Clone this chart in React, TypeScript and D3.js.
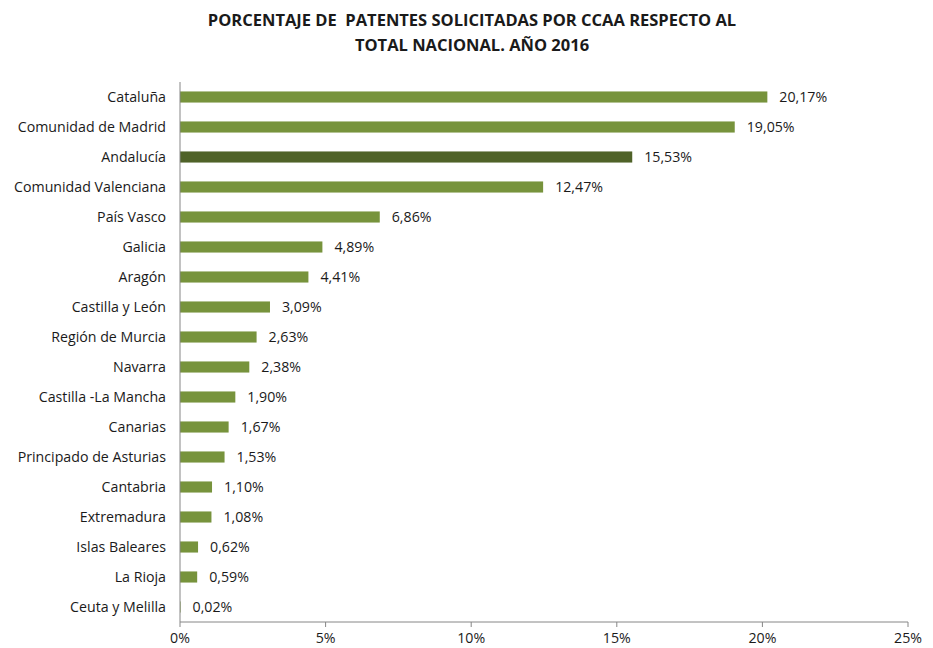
import React from "react";
import * as d3 from "d3";

const categories = [
  "Cataluña", "Comunidad de Madrid", "Andalucía", "Comunidad Valenciana", "País Vasco",
  "Galicia", "Aragón", "Castilla y León", "Región de Murcia", "Navarra",
  "Castilla -La Mancha", "Canarias", "Principado de Asturias", "Cantabria",
  "Extremadura", "Islas Baleares", "La Rioja", "Ceuta y Melilla",
];
const values = [20.17, 19.05, 15.53, 12.47, 6.86, 4.89, 4.41, 3.09, 2.63, 2.38, 1.9, 1.67, 1.53, 1.1, 1.08, 0.62, 0.59, 0.02];
const highlighted = ["Andalucía"];
const ticks = [0, 5, 10, 15, 20, 25];
const titleLines = ["PORCENTAJE DE  PATENTES SOLICITADAS POR CCAA RESPECTO AL", "TOTAL NACIONAL. AÑO 2016"];

export default function App() {
  const W = 933, H = 648;
  const x = d3.scaleLinear().domain([0, 25]).range([180, 908]);
  const y = d3.scaleBand().domain(categories).range([82, 622]).paddingInner(0.63).paddingOuter(0.315);
  const font = "'Open Sans', sans-serif";
  const fs = 14.2;
  const fmt = (v: number) => v.toFixed(2).replace(".", ",") + "%";
  return (
    <svg width={W} height={H} style={{ position: "absolute", left: 0, top: 0, background: "#fff" }} fontFamily={font}>
      {titleLines.map((t, i) => (
        <text key={i} x={472} y={26 + i * 25} textAnchor="middle" fontSize={16.5} fontWeight="bold" fill="#1a1a1a" style={{ whiteSpace: "pre" }}>{t}</text>
      ))}
      {categories.map((c, i) => {
        const yy = y(c)!;
        const bw = y.bandwidth();
        return (
          <g key={c}>
            <rect x={x(0)} y={yy} width={x(values[i]) - x(0)} height={bw}
              fill={highlighted.includes(c) ? "#4f6228" : "#77933c"} />
            <text x={166} y={yy + bw / 2} dy="0.35em" textAnchor="end" fontSize={fs} fill="#1a1a1a">{c}</text>
            <text x={x(values[i]) + 12} y={yy + bw / 2} dy="0.35em" fontSize={fs} fill="#1a1a1a">{fmt(values[i])}</text>
          </g>
        );
      })}
      <line x1={x(0)} x2={x(0)} y1={82} y2={622} stroke="#868686" />
      <line x1={x(0)} x2={x(25)} y1={622} y2={622} stroke="#868686" />
      {ticks.map((t) => (
        <g key={t}>
          <line x1={x(t)} x2={x(t)} y1={622} y2={627} stroke="#868686" />
          <text x={x(t)} y={638} dy="0.35em" textAnchor="middle" fontSize={fs} fill="#1a1a1a">{t + "%"}</text>
        </g>
      ))}
    </svg>
  );
}
